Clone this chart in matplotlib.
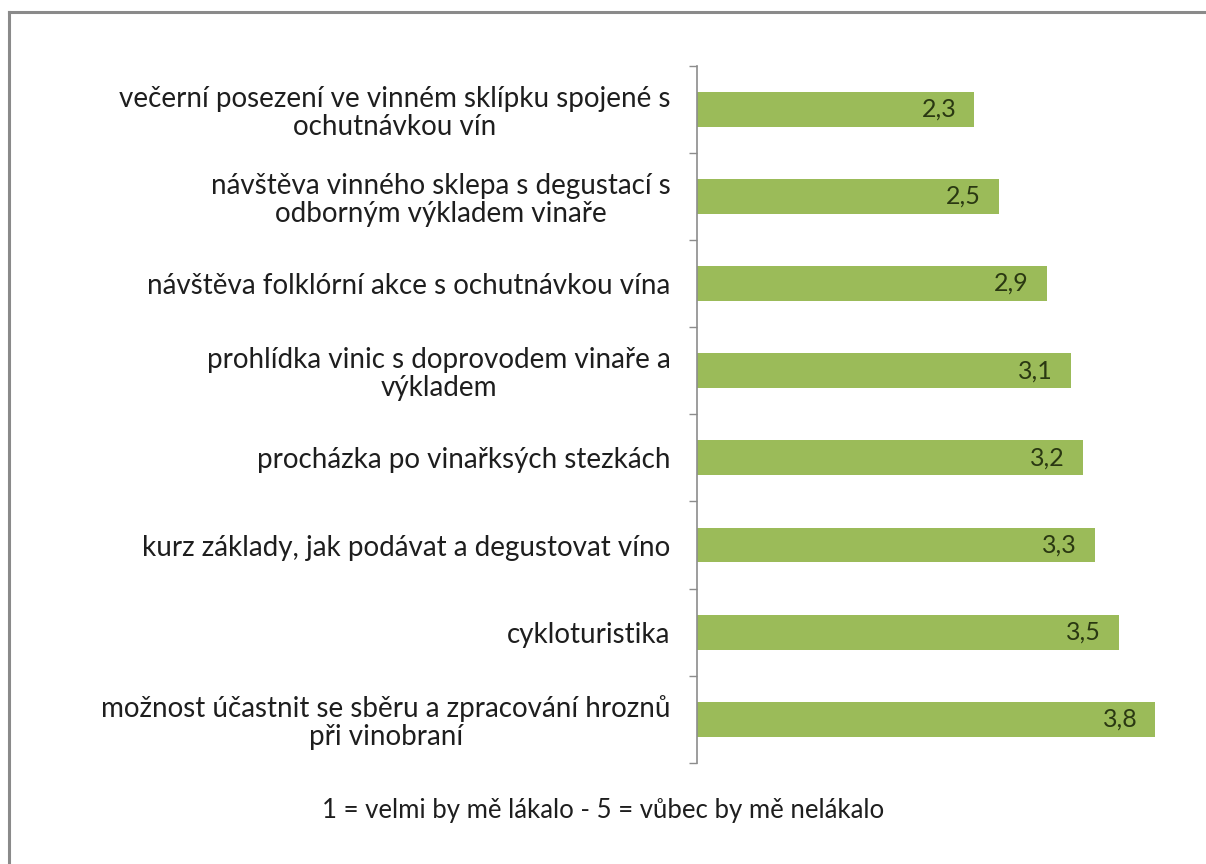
import matplotlib
matplotlib.use("Agg")
import matplotlib.pyplot as plt
from matplotlib.lines import Line2D

plt.rcParams['font.family'] = ['Lato', 'DejaVu Sans']

categories = [
    "večerní posezení ve vinném sklípku spojené s\nochutnávkou vín",
    "návštěva vinného sklepa s degustací s\nodborným výkladem vinaře",
    "návštěva folklórní akce s ochutnávkou vína",
    "prohlídka vinic s doprovodem vinaře a\nvýkladem",
    "procházka po vinařksých stezkách",
    "kurz základy, jak podávat a degustovat víno",
    "cykloturistika",
    "možnost účastnit se sběru a zpracování hroznů\npři vinobraní",
]
values = [2.3, 2.5, 2.9, 3.1, 3.2, 3.3, 3.5, 3.8]
footnote = "1 = velmi by mě lákalo - 5 = vůbec by mě nelákalo"

fig = plt.figure(figsize=(12.06, 8.64), dpi=100)
ax = fig.add_axes([0.578, 0.117, 0.400, 0.807])

n = len(categories)
ypos = list(range(n))
bars = ax.barh(ypos, values, height=0.4, color="#9BBB59", edgecolor="none")
ax.set_ylim(n - 0.5, -0.5)
ax.set_xlim(0, 4)

for b, v in zip(bars, values):
    ax.text(b.get_width() - 0.15, b.get_y() + b.get_height() / 2,
            f"{v:.1f}".replace(".", ","), ha="right", va="center",
            fontsize=18, color="#2A3812")

ax.set_yticks(ypos)
ax.set_yticklabels(categories, fontsize=20, color="#1E1E1E",
                   multialignment="center", linespacing=1.1)
ax.tick_params(axis="y", which="major", length=0, pad=19)
ax.set_yticks([i - 0.5 for i in range(n + 1)], minor=True)
ax.tick_params(axis="y", which="minor", length=6, width=1, color="#8C8C8C")
ax.set_xticks([])
for s in ("top", "right", "bottom"):
    ax.spines[s].set_visible(False)
ax.spines["left"].set_color("#8C8C8C")
ax.spines["left"].set_linewidth(1.2)

fig.text(0.5, 0.062, footnote, ha="center", va="center", fontsize=18.5,
         color="#1E1E1E")

# frame: top and left edges only
top_y = 1 - 12 / 864
left_x = 9 / 1206
fig.lines.append(Line2D([left_x, 1.0], [top_y, top_y], transform=fig.transFigure,
                        color="#8A8A8A", linewidth=2.2))
fig.lines.append(Line2D([left_x, left_x], [0.0, top_y], transform=fig.transFigure,
                        color="#8A8A8A", linewidth=2.2))

fig.savefig("out.png", dpi=100)
